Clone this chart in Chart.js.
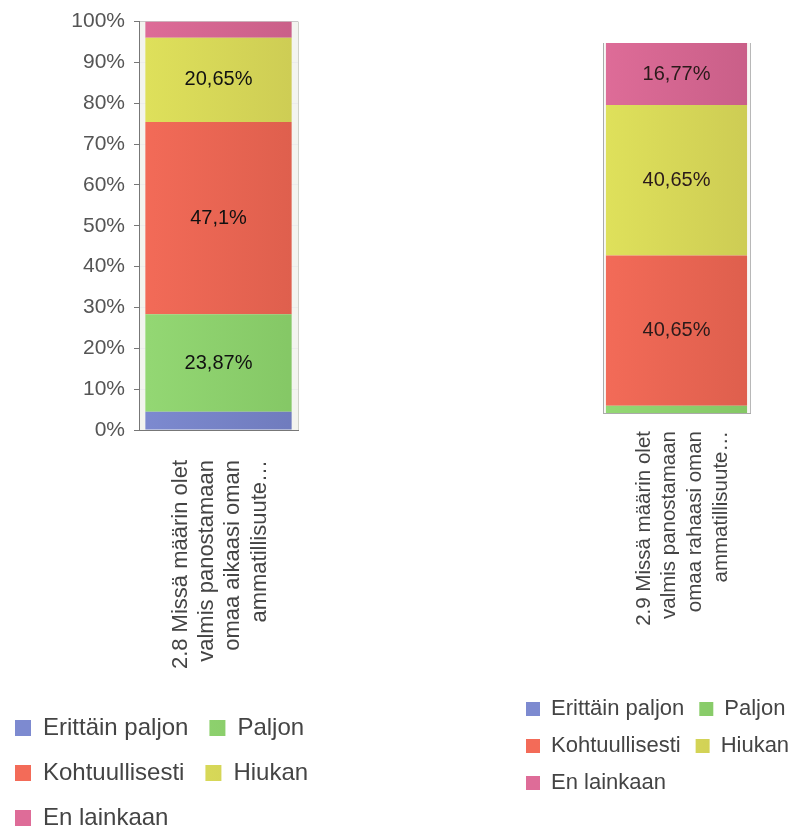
<!DOCTYPE html>
<html>
<head>
<meta charset="utf-8">
<script src="https://cdn.jsdelivr.net/npm/chart.js@4.4.1/dist/chart.umd.min.js"></script>
<style>
  html, body { margin: 0; padding: 0; background: #fff; overflow: hidden; width: 795px; height: 832px; }
  canvas { position: absolute; top: 0; }
  #chart-aika { left: -6px; }
  #chart-raha { left: 511px; }
</style>
</head>
<body>
<canvas id="chart-aika" width="420" height="840"></canvas>
<canvas id="chart-raha" width="380" height="804"></canvas>
<script>
// ─── Data ──────────────────────────────────────────────────
const SERIES = ['Erittäin paljon', 'Paljon', 'Kohtuullisesti', 'Hiukan', 'En lainkaan'];

const QUESTION_AIKA = ['2.8 Missä määrin olet', 'valmis panostamaan', 'omaa aikaasi oman', 'ammatillisuute…'];
const QUESTION_RAHA = ['2.9 Missä määrin olet', 'valmis panostamaan', 'omaa rahaasi oman', 'ammatillisuute…'];

// percent per answer, same order as SERIES
const VALUES_AIKA = [4.45, 23.87, 47.1, 20.65, 3.93];
const VALUES_RAHA = [0, 1.93, 40.65, 40.65, 16.77];

// ─── Style ─────────────────────────────────────────────────
const LIGHT = ['#7d8ad0', '#94d874', '#f36b58', '#dfe15b', '#de6c98'];
const DARK  = ['#6f7bbd', '#84c765', '#de5f4d', '#cdcc54', '#c95f88'];

Chart.defaults.font.family = "'Liberation Sans', Arial, sans-serif";
Chart.defaults.animation = false;

function shade(i) {
    return ctx => {
        const a = ctx.chart.chartArea;
        if (!a) return LIGHT[i];
        const g = ctx.chart.ctx.createLinearGradient(a.left, 0, a.right, 0);
        g.addColorStop(0, LIGHT[i]);
        g.addColorStop(1, DARK[i]);
        return g;
    };
}

// light fill behind the plot area
const plotBg = {
    id: 'plotBg',
    beforeDraw(chart, args, opts) {
        const { ctx, chartArea: a } = chart;
        ctx.save();
        ctx.fillStyle = opts.color;
        ctx.fillRect(a.left, a.top, a.width, a.height);
        ctx.restore();
    }
};

// percentages written inside the bigger segments
const valueLabels = {
    id: 'valueLabels',
    afterDatasetsDraw(chart, args, opts) {
        const ctx = chart.ctx;
        ctx.save();
        ctx.font = opts.font;
        ctx.fillStyle = opts.color;
        ctx.textAlign = 'center';
        ctx.textBaseline = 'middle';
        chart.data.datasets.forEach((ds, i) => {
            chart.getDatasetMeta(i).data.forEach((bar, j) => {
                const v = ds.data[j];
                if (v < 10) return;
                ctx.fillText(String(v).replace('.', ',') + '%', bar.x, (bar.y + bar.base) / 2);
            });
        });
        ctx.restore();
    }
};

function datasets(values, barPct) {
    return SERIES.map((name, i) => ({
        label: name,
        data: [values[i]],
        backgroundColor: shade(i),
        borderWidth: 0,
        barPercentage: barPct,
        categoryPercentage: 1,
    }));
}

// spacer axis on the right so the legend keeps its full width
function spacer(w) {
    return {
        position: 'right',
        grid: { display: false },
        border: { display: false },
        ticks: { display: false },
        afterFit: s => { s.width = w; },
    };
}

// ─── Left chart: time ──────────────────────────────────────
new Chart(document.getElementById('chart-aika'), {
    type: 'bar',
    data: { labels: [QUESTION_AIKA], datasets: datasets(VALUES_AIKA, 0.92) },
    plugins: [plotBg, valueLabels],
    options: {
        responsive: false,
        layout: { padding: { top: 19 } },
        plugins: {
            plotBg: { color: '#f3f4ef' },
            valueLabels: { font: "20px 'Liberation Sans', Arial, sans-serif", color: '#111' },
            tooltip: { enabled: false },
            legend: {
                position: 'bottom',
                align: 'start',
                labels: { boxWidth: 16, boxHeight: 16, padding: 21, color: '#444', font: { size: 24 } },
            },
        },
        scales: {
            x: {
                stacked: true,
                grid: { color: '#cfd1c9', drawTicks: false },
                border: { color: '#777' },
                ticks: {
                    color: '#444', font: { size: 22 }, autoSkip: false,
                    minRotation: 90, maxRotation: 90, padding: 30, labelOffset: -38,
                },
                afterFit: s => { s.height = 265; },
            },
            y: {
                stacked: true, min: 0, max: 100,
                ticks: { stepSize: 10, callback: v => v + '%', color: '#555', font: { size: 21 }, padding: 9 },
                grid: { color: c => c.tick && c.tick.value === 100 ? '#c8c8c8' : '#ececec', tickColor: '#777', tickLength: 5 },
                border: { color: '#777' },
                afterFit: s => { s.width = 145; },
            },
            y2: spacer(116),
        },
    },
});

// ─── Right chart: money ────────────────────────────────────
new Chart(document.getElementById('chart-raha'), {
    type: 'bar',
    data: { labels: [QUESTION_RAHA], datasets: datasets(VALUES_RAHA, 0.96) },
    plugins: [plotBg, valueLabels],
    options: {
        responsive: false,
        layout: { padding: { top: 43 } },
        plugins: {
            plotBg: { color: '#f7f7f4' },
            valueLabels: { font: "20px 'Liberation Sans', Arial, sans-serif", color: '#2a1a1a' },
            tooltip: { enabled: false },
            legend: {
                position: 'bottom',
                align: 'start',
                labels: { boxWidth: 14, boxHeight: 14, padding: 15, color: '#444', font: { size: 22 } },
            },
        },
        scales: {
            x: {
                stacked: true,
                grid: { color: '#b8b8b8', drawTicks: false },
                border: { color: '#aaa' },
                ticks: {
                    color: '#444', font: { size: 20.5, lineHeight: 1.25 }, autoSkip: false,
                    minRotation: 90, maxRotation: 90, padding: 18, labelOffset: -32.5,
                },
                afterFit: s => { s.height = 270; },
            },
            y: {
                stacked: true, min: 0, max: 100,
                ticks: { display: false },
                grid: { display: false },
                border: { color: '#aaa' },
                afterFit: s => { s.width = 92; },
            },
            y2: spacer(141),
        },
    },
});
</script>
</body>
</html>
